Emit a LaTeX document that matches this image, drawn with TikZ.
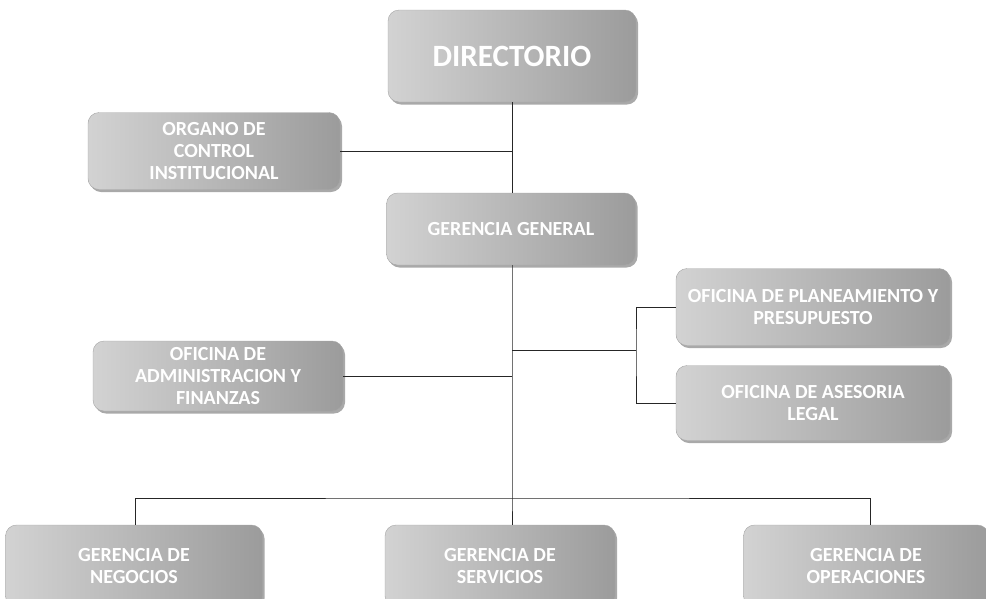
\documentclass[tikz,border=0pt]{standalone}
\usepackage{fontspec}
\setmainfont{Carlito}
\usetikzlibrary{shadows}
\begin{document}
\begin{tikzpicture}[x=1pt,y=-1pt,
                    unit/.style={rounded corners=11pt, left color=gray!35, right color=gray!78, draw=gray!70, thin,
                                 drop shadow={shadow xshift=2pt, shadow yshift=-2.5pt, fill=gray!85, opacity=.8},
                                 text=white, align=center, inner sep=2pt,
                                 font=\bfseries\fontsize{20}{22}\selectfont},
                    link/.style={draw, line width=0.8pt, black!85}
                ]
                \useasboundingbox (0,0) rectangle (986,598);
                % cabeza
                \node [unit, minimum width=248pt, minimum height=92pt, font=\bfseries\fontsize{31}{34}\selectfont] (dir) at (512,56) {DIRECTORIO};
                \node [unit, minimum width=252pt, minimum height=77pt] (oci) at (214,151) {ORGANO DE\\CONTROL\\INSTITUCIONAL};
                \node [unit, minimum width=249pt, minimum height=72pt] (gg) at (511,229) {GERENCIA GENERAL};
                % staff
                \node [unit, minimum width=274pt, minimum height=77pt] (opp) at (813,307) {OFICINA DE PLANEAMIENTO Y\\PRESUPUESTO};
                \node [unit, minimum width=274pt, minimum height=75pt] (oal) at (813,403) {OFICINA DE ASESORIA\\LEGAL};
                \node [unit, minimum width=250pt, minimum height=70pt] (oaf) at (218,376) {OFICINA DE\\ADMINISTRACION Y\\FINANZAS};
                % linea
                \node [unit, minimum width=257pt, minimum height=82pt] (gn) at (134,566) {GERENCIA DE\\NEGOCIOS};
                \node [unit, minimum width=230pt, minimum height=82pt] (gs) at (500,566) {GERENCIA DE\\SERVICIOS};
                \node [unit, minimum width=245pt, minimum height=82pt] (go) at (866,566) {GERENCIA DE\\OPERACIONES};
                % conectores
                \coordinate (j1) at (512,151);
                \coordinate (j2) at (512,350);
                \coordinate (j3) at (636,350);
                \coordinate (j4) at (512,376);
                \coordinate (j5) at (512,498);
                \draw [link] (dir.south -| j1) -- (gg.north -| j1);
                \draw [link] (oci.east) -- (j1);
                \draw [link] (gg.south -| j1) -- (j5) -- (gs.north -| j5);
                \draw [link] (j2) -- (j3);
                \draw [link] (opp.west) -| (j3) |- (oal.west);
                \draw [link] (oaf.east) -- (j4);
                \draw [link] (gn.north -| 135,0) |- (j5) -| (go.north -| 870,0);
\end{tikzpicture}
\end{document}
